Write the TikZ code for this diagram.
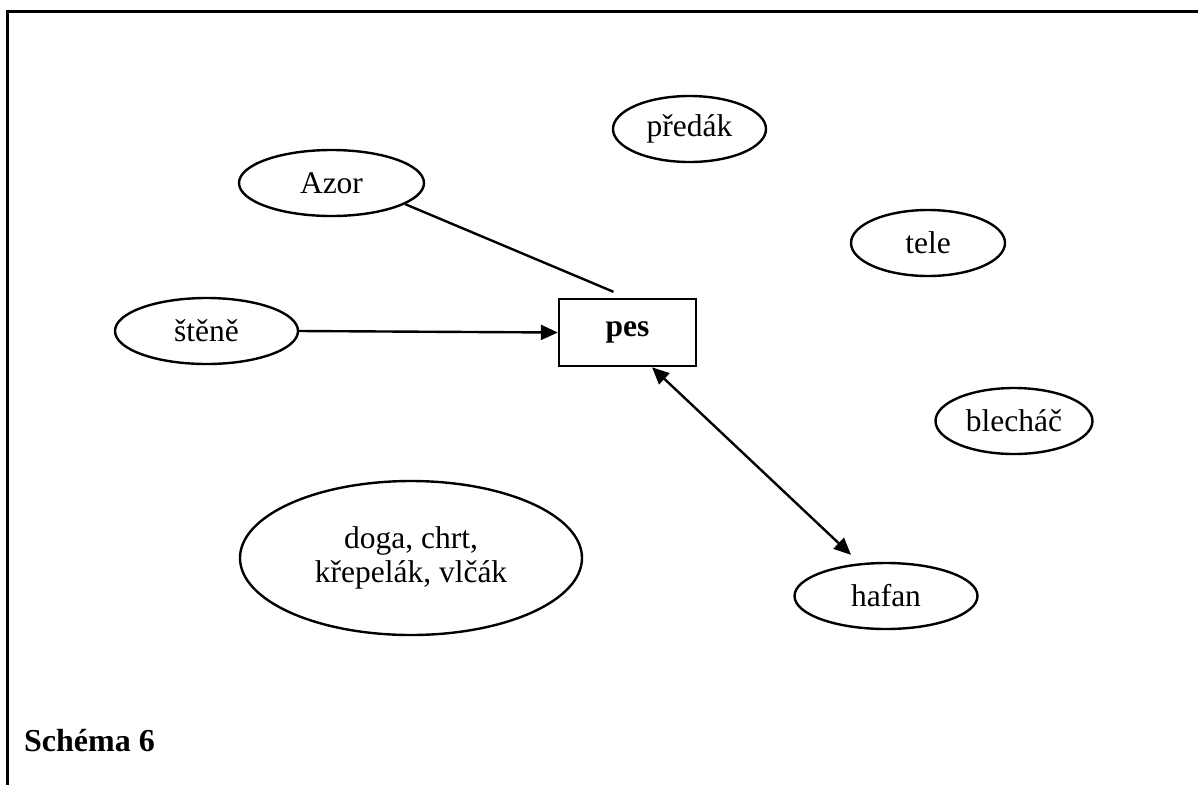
\documentclass[tikz,border=0pt]{standalone}
\usepackage{fontspec}
\setmainfont{Liberation Serif}
\usetikzlibrary{shapes.geometric,arrows.meta}

\tikzset{
  word/.style={ellipse, draw, line width=2.4pt, inner sep=0pt,
    minimum height=66pt, font=\fontsize{31.5}{34}\selectfont, align=center},
  centre/.style={rectangle, draw, line width=2.4pt, inner sep=0pt,
    minimum width=137pt, minimum height=67pt,
    font=\fontsize{31.5}{34}\selectfont\bfseries},
  link/.style={line width=2.4pt},
  tip/.style={line width=2.4pt, -{Triangle[length=17pt,width=15pt]}},
  bothtips/.style={line width=2.4pt,
    {Triangle[length=17pt,width=15pt]}-{Triangle[length=17pt,width=15pt]}},
  caption/.style={font=\fontsize{32}{34}\selectfont\bfseries, inner sep=0pt}
}

\begin{document}
\begin{tikzpicture}[x=1pt, y=-1pt]
  \useasboundingbox (0,0) rectangle (1198,785);

  % page frame, open at the right and at the bottom
  \draw[line width=3pt] (7,785) -- (7,11) -- (1198,11);

  % central word
  \node[centre] (pes) at (627.5,332.5) {pes};

  % surrounding words
  \node[word, minimum width=185pt] (azor)    at (331.5,183) {Azor};
  \node[word, minimum width=153pt] (predak)  at (689.5,129) {předák};
  \node[word, minimum width=154pt] (tele)    at (928,243)   {tele};
  \node[word, minimum width=183pt] (stene)   at (206.5,331) {štěně};
  \node[word, minimum width=157pt] (blechac) at (1014,421)  {blecháč};
  \node[word, minimum width=183pt] (hafan)   at (886,596)   {hafan};
  \node[word, minimum width=342pt, minimum height=154pt] (plemena) at (411,558)
       {doga, chrt,\\křepelák, vlčák};

  % connectors
  \draw[link] (azor.-16) -- ([xshift=-14pt,yshift=6pt]pes.north);
  \draw[tip] (stene.east) -- (pes.west);
  \draw[bothtips] ([xshift=24.5pt]pes.south) -- ([xshift=-35pt,yshift=7pt]hafan.north);

  % caption
  \node[caption, anchor=base west] (schema) at (24,751) {Schéma 6};
\end{tikzpicture}
\end{document}
